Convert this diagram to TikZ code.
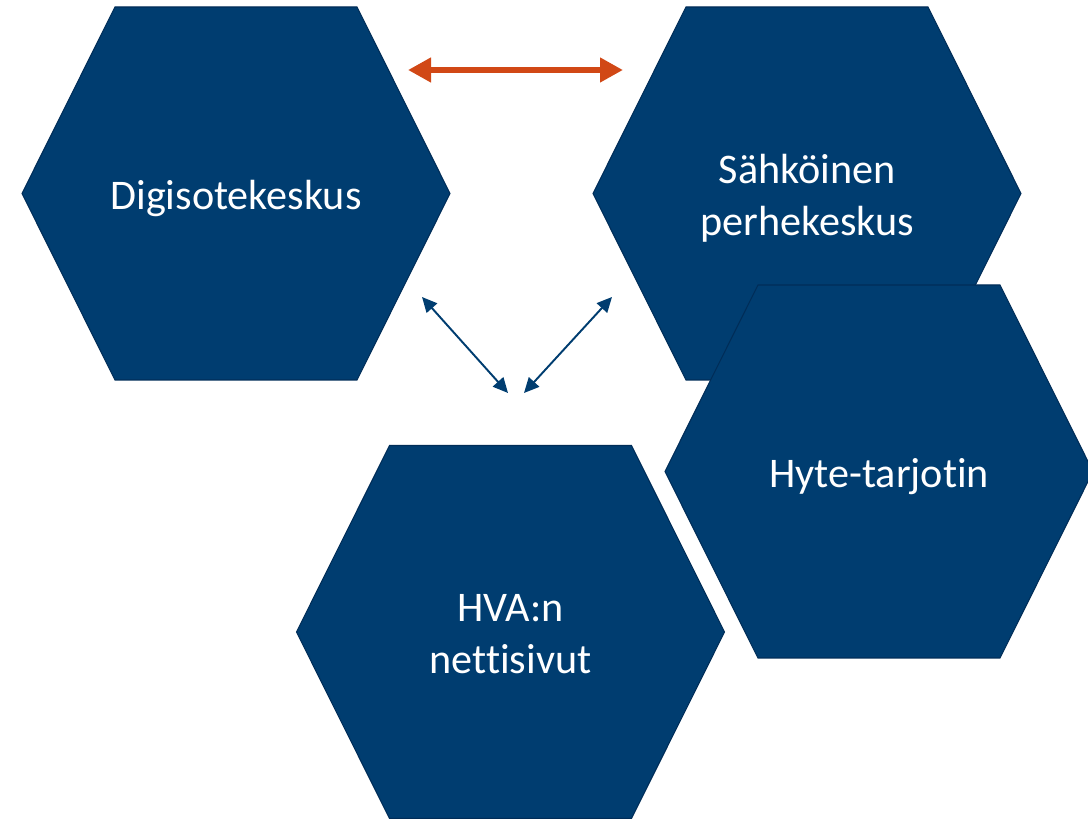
\documentclass[tikz,border=0pt]{standalone}
\usepackage{fontspec}
\setmainfont[Ligatures={NoCommon,NoRequired,NoContextual}]{Carlito}
\usepackage{tikz}
\usetikzlibrary{positioning}
\usetikzlibrary{arrows.meta}
\definecolor{hexblue}{RGB}{0,61,112}
\definecolor{hexedge}{RGB}{0,45,88}
\definecolor{linkorange}{RGB}{209,72,22}
\tikzset{%
  hexfill/.style  = {fill=hexblue, draw=hexedge, line width=0.6pt, line join=miter},
  hexlabel/.style = {text=white, align=center, inner sep=0pt,
    font=\fontsize{24}{29.5}\selectfont},
  biglink/.style  = {draw=linkorange, line width=0.12cm,
    {Triangle[length=0.46cm,width=0.47cm]}-{Triangle[length=0.46cm,width=0.47cm]}},
  smalllink/.style = {draw=hexblue, line width=1.1pt,
    {Triangle[length=0.3cm,width=0.28cm]}-{Triangle[length=0.3cm,width=0.28cm]}}
}
% hexagon round a centre
\newcommand{\hexcell}[1]{%
  \filldraw[hexfill] (#1) ++(-2.42,3.73) -- ++(4.84,0) -- ++(1.86,-3.73)
    -- ++(-1.86,-3.73) -- ++(-4.84,0) -- ++(-1.86,3.73) -- cycle;}

\begin{document}
\begin{tikzpicture}
	\useasboundingbox (0,0) rectangle (21.76,-16.38);

	\coordinate (cdigi) at (4.72,-3.87);
	\coordinate (cperhe) at (16.14,-3.87);
	\coordinate (chva) at (10.21,-12.64);
	\coordinate (chyte) at (17.58,-9.43);

	\hexcell{cdigi}
	\hexcell{cperhe}
	\hexcell{chva}
	\hexcell{chyte}

	\node at (cdigi) [hexlabel, yshift=-0.09cm] (digi) {Digisotekeskus};
	\node at (cperhe) [hexlabel, yshift=-0.1cm] (perhe) {Sähköinen\\perhekeskus};
	\node at (chyte) [hexlabel, yshift=-0.1cm] (hyte) {Hyte-tarjotin};
	\node at (chva) [hexlabel, yshift=-0.05cm] (hva) {HVA:n\\nettisivut};

	% free arrow ends
	\coordinate (o1) at (8.16,-1.4);
	\coordinate (o2) at (12.46,-1.4);
	\coordinate (b1) at (8.44,-5.94);
	\coordinate (b2) at (10.16,-7.86);
	\coordinate (b3) at (12.24,-5.94);
	\coordinate (b4) at (10.48,-7.86);

	\draw[biglink] (o1) -- (o2);
	\draw[smalllink] (b1) -- (b2);
	\draw[smalllink] (b3) -- (b4);

\end{tikzpicture}
\end{document}
